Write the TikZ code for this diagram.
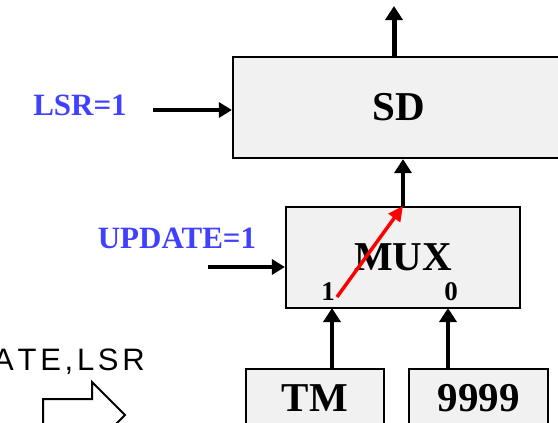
\documentclass[tikz,border=0pt]{standalone}
\usepackage{fontspec}
\setmainfont{Liberation Serif}
\newfontfamily\sansfnt[LetterSpace=12,Kerning=Off]{Liberation Sans}
\usetikzlibrary{arrows.meta}
\definecolor{boxgray}{RGB}{241,241,241}
\definecolor{lblue}{RGB}{64,64,255}

\begin{document}
\begin{tikzpicture}[x=1pt,y=-1pt,
  box/.style={draw,line width=2.2pt,fill=boxgray,inner sep=0pt,font=\fontsize{41}{41}\selectfont\bfseries},
  wire/.style={line width=4.5pt,-{Triangle[length=14pt,width=17pt]}},
  ctrl/.style={line width=3.2pt,-{Triangle[length=13pt,width=15pt]}},
  lbl/.style={font=\fontsize{31}{31}\selectfont\bfseries,text=lblue,inner sep=0pt},
  port/.style={font=\fontsize{27}{27}\selectfont\bfseries,inner sep=0pt}]
\useasboundingbox (0,0) rectangle (558,423);
\clip (0,0) rectangle (558,423);

% blocks
\node[box,minimum width=332pt,minimum height=101pt] (sd) at (399,107.5) {SD};
\node[box,minimum width=234pt,minimum height=101pt] (mux) at (403,257.5) {MUX};
\node[box,minimum width=138pt,minimum height=58pt] (tm) at (315,398) {TM};
\node[box,minimum width=139pt,minimum height=58pt] (nines) at (478.5,398) {9999};

% control labels
\node[lbl] (lsr) at (80,105) {LSR=1};
\node[lbl] (upd) at (177,238) {UPDATE=1};
\node[port] (p1) at (328,292) {1};
\node[port] (p0) at (451,292) {0};

% free ends of the wires
\coordinate (lsrin) at (153,110);
\coordinate (updin) at (208,267);
\coordinate (in1) at (332,308);
\coordinate (in0) at (448,308);
\coordinate (out) at (394,6);
\coordinate (sw1) at (337,297);

\draw[ctrl] (lsrin) -- (lsrin -| sd.west);
\draw[ctrl] (updin) -- (updin -| mux.west);
\draw[wire] (in1 |- tm.north) -- (in1);
\draw[wire] (in0 |- nines.north) -- (in0);
\draw[wire] (mux.north) -- (mux.north |- sd.south);
\draw[wire,line width=5pt] (out |- sd.north) -- (out);
\draw[line width=3.5pt,red,-{Triangle[length=15pt,width=14pt]}] (sw1) -- (mux.north);

% transition hint
\node[font=\fontsize{31}{31}\sansfnt,anchor=base east,inner sep=0pt] (trans) at (145,370) {UPDATE,LSR};
\draw[line width=2pt] (43,440) -- (43,399) -- (92,399) -- (92,382) -- (125,415)
  -- (92,448) -- (92,431) -- (43,431) -- cycle;

\end{tikzpicture}
\end{document}
